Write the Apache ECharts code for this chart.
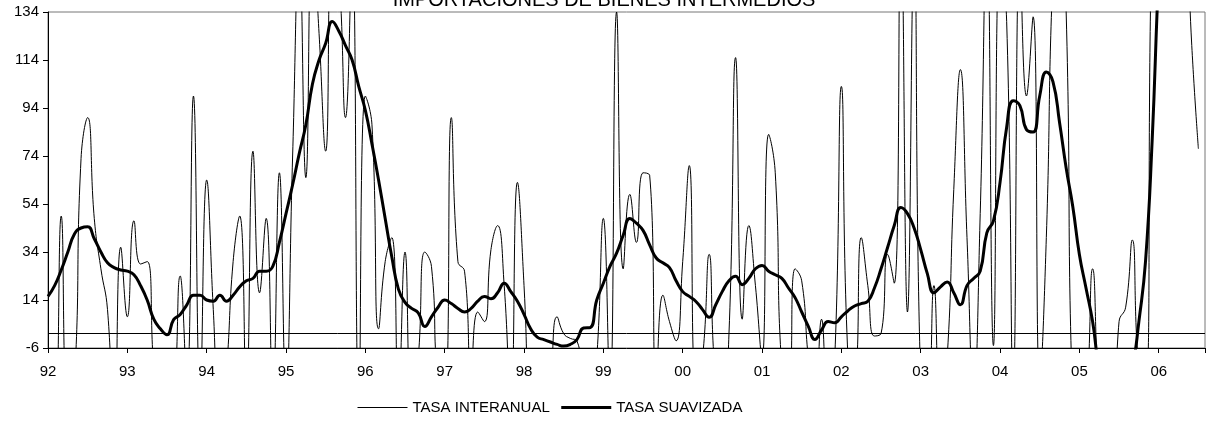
<!DOCTYPE html>
<html>
<head>
<meta charset="utf-8">
<script src="https://cdn.jsdelivr.net/npm/echarts@6/dist/echarts.min.js"></script>
<style>
  html, body { margin: 0; padding: 0; background: #fff; }
  #chart { width: 1208px; height: 428px; }
</style>
</head>
<body>
<div id="chart"></div>
<script>
// Importaciones de bienes intermedios, monthly from Jan 1992
const yearLabels = ['92', '93', '94', '95', '96', '97', '98', '99', '00', '01', '02', '03', '04', '05', '06'];

// thin line: tasa interanual (values outside -6..134 are clipped)
const tasaInteranual = [
  -15, -35, 49, -30, -20, 73, 90, 48, 27, 10, -40, 36,
  7, 47, 29, 30, -15, -40, -40, -30, 24, -20, 99, -25,
  64, 10, -40, -15, 30, 49, -25, 76, 17, 48, -25, 67,
  -25, 74, 160, 65, 170, 125, 76, 165, 150, 90, 160, -30,
  99, 87, 2, 30, 40, -25, 34, -30, -10, 34, 28, -20,
  -25, 90, 30, 26, -15, 9, 5, 35, 45, 20, -30, 63,
  20, -40, -50, -40, -20, 7, 0, -2, -3, -20, -30, -10,
  48, -25, 134, 27, 58, 38, 67, 66, -20, 16, 5, -3,
  30, 70, -20, -10, 33, -20, -25, 0, 115, 6, 45, 20,
  -10, 83, 67, -15, -20, 27, 22, -10, -30, 6, -30, -10,
  103, -10, -15, 40, 20, -1, 0, 33, 21, 170, 9, 160,
  -20, -30, 20, -30, -10, 60, 110, 40, -25, 50, 170, -5,
  160, 130, -20, 160, 99, 132, -20, 40, 150, 180, 134, -30,
  -40, -30, 27, -30, -50, -50, 5, 11, 39, -15, -20, 170,
  200, 220, 210, 200, 180, 120, 77
];

// thick line: tasa suavizada
const tasaSuavizada = [
  15.5, 20, 26.5, 34, 41.5, 44, 44.5, 39.5, 34, 29.5, 27.5, 26.5,
  26, 24.5, 20, 14, 6, 2, -0.5, 5.8, 8, 12, 16, 16,
  14, 13.5, 16, 13.5, 16, 19.5, 22, 23, 26, 26, 28, 38,
  50, 62, 75, 87, 104, 114, 121, 130, 126, 120, 114, 103,
  93, 79, 64, 48, 32, 18.5, 13, 10.5, 8.6, 3, 7, 11,
  14, 12.5, 10.5, 9, 10.5, 13.5, 15.5, 14.5, 17, 21, 17.5, 13.5,
  8, 2, -1.5, -2.5, -3.5, -4.5, -5.2, -4.5, -2.5, 2.3, 2.5, 14,
  21, 28, 33.5, 41, 48, 46, 43, 37, 31.5, 29.5, 27.5, 22,
  17.5, 15.5, 13.4, 10, 6.8, 12, 17.6, 22, 23.9, 20.4, 23, 27,
  28.4, 26, 24.5, 23, 19, 15, 9, 3, -2.5, 1.5, 5, 4.5,
  7, 9.5, 11.5, 12.5, 13.5, 19, 27, 36, 45, 52.5, 50, 44,
  35, 25, 17, 19.5, 21.5, 17, 12, 20, 23, 26, 42, 47,
  63, 86, 97, 95, 85, 84, 99, 109, 105, 88, 69, 53,
  33, 19, 5, -15, -25, -30, -30, -25, -15, 5, 30, 80,
  150, 200, 230, 250, 260, 260, 255
];

const toPairs = arr => arr.map((v, i) => [i, v]);

const chart = echarts.init(document.getElementById('chart'));

const font = 'Liberation Sans, Arial, sans-serif';

chart.setOption({
  animation: false,
  backgroundColor: '#fff',
  title: {
    text: 'IMPORTACIONES DE BIENES INTERMEDIOS',
    left: 'center',
    top: -10,
    padding: 0,
    textStyle: { fontFamily: font, fontSize: 20, fontWeight: 'normal', color: '#000' }
  },
  legend: {
    left: 357,
    top: 400,
    padding: 0,
    itemWidth: 50,
    itemHeight: 14,
    itemGap: 10,
    itemStyle: { opacity: 0 },
    textStyle: { fontFamily: font, fontSize: 15, color: '#000' },
    data: [
      { name: 'TASA INTERANUAL', lineStyle: { width: 1, color: '#000' } },
      { name: 'TASA SUAVIZADA', lineStyle: { width: 3, color: '#000' } }
    ]
  },
  grid: {
    left: 48, right: 2, top: 12, bottom: 80,
    show: true, borderColor: '#777', borderWidth: 1
  },
  xAxis: {
    type: 'value',
    min: 0,
    max: 175,
    interval: 12,
    splitLine: { show: false },
    axisLine: { onZero: false, lineStyle: { color: '#000' } },
    axisTick: { length: 5, lineStyle: { color: '#000' } },
    axisLabel: {
      margin: 16,
      fontFamily: font, fontSize: 15, color: '#000',
      formatter: v => (v % 12 === 0 && yearLabels[v / 12]) ? yearLabels[v / 12] : ''
    }
  },
  yAxis: {
    type: 'value',
    min: -6,
    max: 134,
    interval: 20,
    splitLine: { show: false },
    axisLine: { show: true, lineStyle: { color: '#000' } },
    axisTick: { show: true, length: 5, lineStyle: { color: '#000' } },
    axisLabel: { margin: 9, fontFamily: font, fontSize: 15, color: '#000' }
  },
  series: [
    {
      name: 'TASA INTERANUAL',
      type: 'line',
      data: toPairs(tasaInteranual),
      smooth: true,
      showSymbol: false,
      symbol: 'none',
      clip: true,
      lineStyle: { color: '#000', width: 1 },
      itemStyle: { color: '#000' },
      markLine: {
        silent: true,
        symbol: 'none',
        label: { show: false },
        lineStyle: { color: '#000', width: 1, type: 'solid' },
        data: [{ yAxis: 0 }]
      }
    },
    {
      name: 'TASA SUAVIZADA',
      type: 'line',
      data: toPairs(tasaSuavizada),
      smooth: true,
      showSymbol: false,
      symbol: 'none',
      clip: true,
      lineStyle: { color: '#000', width: 3 },
      itemStyle: { color: '#000' }
    }
  ]
});
</script>
</body>
</html>
